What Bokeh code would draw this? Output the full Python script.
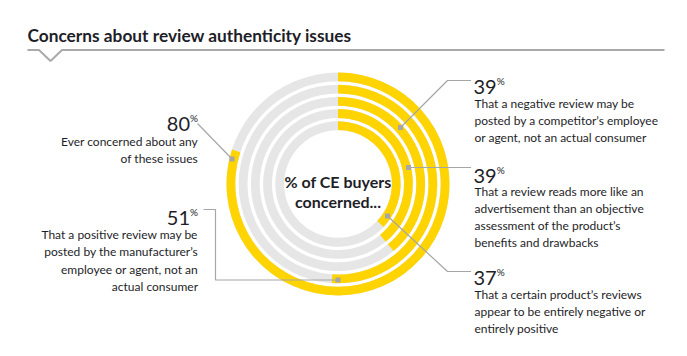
from bokeh.plotting import figure
from bokeh.models import Range1d
from bokeh.core.properties import value
from bokeh.embed import file_html
from bokeh.resources import INLINE

W, H = 687, 356

# ---- data ----
title = "Concerns about review authenticity issues"
center_lines = ["% of CE buyers", "concerned..."]
ring_pcts = [80, 51, 39, 39, 37]          # outer -> inner
ring_texts = [
    ["Ever concerned about any", "of these issues"],
    ["That a positive review may be", "posted by the manufacturer\u2019s", "employee or agent, not an", "actual consumer"],
    ["That a negative review may be", "posted by a competitor\u2019s employee", "or agent, not an actual consumer"],
    ["That a review reads more like an", "advertisement than an objective", "assessment of the product\u2019s", "benefits and drawbacks"],
    ["That a certain product\u2019s reviews", "appear to be entirely negative or", "entirely positive"],
]

# ---- style / layout (pixel space, y measured from top) ----
YELLOW = "#FFD400"
GREY_RING = "#E6E6E6"
TEXT = "#1E1E28"
LEAD = "#A6A6A6"
FONT = "Lato"

def Y(y):
    return H - y

p = figure(width=W, height=H, output_backend="svg", toolbar_location=None,
           x_range=Range1d(0, W), y_range=Range1d(0, H), min_border=0)
p.axis.visible = False
p.grid.visible = False
p.outline_line_color = None
p.background_fill_color = "white"

cx, cy = 337.5, 183.5
outer_r = [111.5, 99.3, 87.1, 74.9, 62.7]
thick = 8.8

for pct, ro in zip(ring_pcts, outer_r):
    ri = ro - thick
    p.annulus(x=[cx], y=[Y(cy)], inner_radius=ri, outer_radius=ro,
              fill_color=GREY_RING, line_color=None)
    p.annular_wedge(x=[cx], y=[Y(cy)], inner_radius=ri, outer_radius=ro,
                    start_angle=90 - pct * 3.6, end_angle=90,
                    start_angle_units="deg", end_angle_units="deg",
                    fill_color=YELLOW, line_color=None)

# title + underline with notch
p.text(x=[27], y=[Y(35)], text=[title], text_font=value(FONT), text_font_style="bold",
       text_font_size="17.3px", text_color=TEXT, text_baseline="alphabetic")
p.line(x=[27, 38.5, 50, 61.5, 664], y=[Y(49.5), Y(49.5), Y(60.5), Y(49.5), Y(49.5)],
       line_color="#AAAAAA", line_width=2)

# center text
p.text(x=[cx, cx], y=[Y(180.5), Y(201)], text=center_lines, text_font=value(FONT),
       text_font_style="bold", text_font_size="16px", text_color=TEXT,
       text_align="center", text_baseline="alphabetic")

# leader lines (pixel coords) and dots on rings
leaders = [
    [(197, 123), (231.5, 158.5)],
    [(203, 209), (215, 209), (215, 279.5), (337.5, 279.5)],
    [(470.5, 80), (447, 80), (400, 127)],
    [(470.5, 167), (408, 167)],
    [(470.5, 271), (447, 271), (387, 215.5)],
]
for pts in leaders:
    p.line(x=[a for a, b in pts], y=[Y(b) for a, b in pts], line_color=LEAD, line_width=1.2)
    ex, ey = pts[-1]
    p.scatter(x=[ex], y=[Y(ey)], size=5, marker="square", fill_color=LEAD, line_color=None)

# labels: (anchor x, number baseline, first line baseline, align)
label_pos = [
    (197.5, 123, 140.5, "right"),
    (197.5, 217, 234, "right"),
    (474, 86, 102.5, "left"),
    (474, 175, 190.5, "left"),
    (474, 277, 293.5, "left"),
]
LS = 17.3
NUM_PX = 20
for pct, lines, (ax, nb, lb, al) in zip(ring_pcts, ring_texts, label_pos):
    num = str(pct)
    if al == "left":
        p.text(x=[ax - 1], y=[Y(nb)], text=[num], text_font=value(FONT), text_font_size=f"{NUM_PX}px",
               text_color=TEXT, text_baseline="alphabetic", text_align="left")
        nx = ax - 1 + 0.58 * NUM_PX * len(num)
        p.text(x=[nx], y=[Y(nb - 6)], text=["%"], text_font=value(FONT), text_font_size="10px",
               text_color=TEXT, text_baseline="alphabetic", text_align="left")
    else:
        p.text(x=[ax - 8], y=[Y(nb)], text=[num], text_font=value(FONT), text_font_size=f"{NUM_PX}px",
               text_color=TEXT, text_baseline="alphabetic", text_align="right")
        p.text(x=[ax - 8], y=[Y(nb - 6)], text=["%"], text_font=value(FONT), text_font_size="10px",
               text_color=TEXT, text_baseline="alphabetic", text_align="left")
    ys = [Y(lb + i * LS) for i in range(len(lines))]
    p.text(x=[ax] * len(lines), y=ys, text=lines, text_font=value(FONT), text_font_size="12px",
           text_color=TEXT, text_baseline="alphabetic", text_align=al)

open("out.html", "w").write(file_html(p, INLINE))
